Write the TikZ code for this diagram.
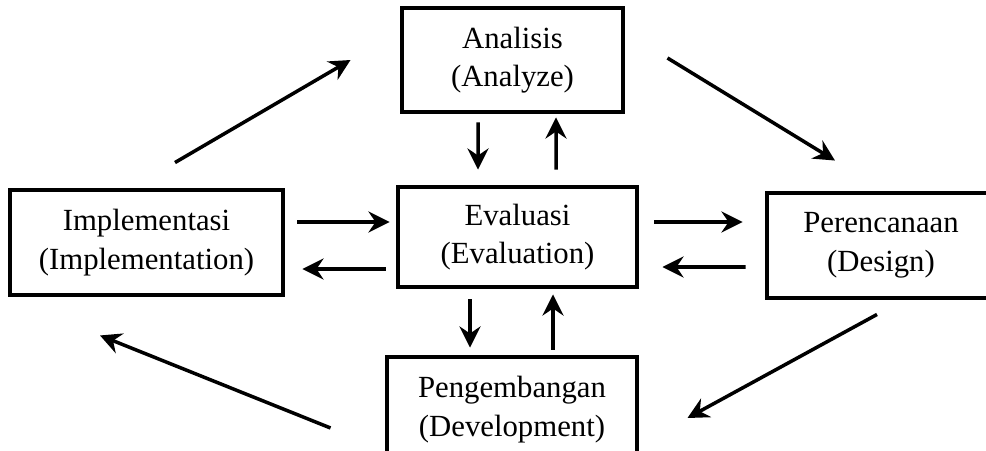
\documentclass[tikz,border=0pt]{standalone}
\usepackage{fontspec}
\setmainfont{Liberation Serif}
\usetikzlibrary{positioning, calc, arrows.meta}

\tikzset{
  stage/.style={draw, line width=2.8pt, align=center, minimum width=#1,
    minimum height=2.1cm, inner sep=2pt, font=\fontsize{17.5}{22}\selectfont},
  flow/.style={-{Stealth[length=12pt,width=12pt,inset=4pt]}, line width=2pt}
}

\begin{document}
\begin{tikzpicture}

    \useasboundingbox (0,0) rectangle (19.72,9);

    % --- Stages ---
    \node[stage=4.42cm, minimum height=2.08cm] (ana) at (10.25,7.8) {Analisis\\(Analyze)};
    \node[stage=4.78cm, minimum height=2.0cm] (eva) at (10.35,4.26) {Evaluasi\\(Evaluation)};
    \node[stage=5.46cm] (imp) at (2.93,4.15) {Implementasi\\(Implementation)};
    \node[stage=4.56cm] (per) at (17.62,4.09) {Perencanaan\\(Design)};
    \node[stage=5.0cm] (peng) at (10.24,0.81) {Pengembangan\\(Development)};

    % --- Outer cycle ---
    \draw[flow] ($(imp.north)+(0.57,0.5)$) -- ($(ana.west)+(-0.98,0)$);
    \draw[flow] ($(ana.east)+(0.84,0.04)$) -- ($(per.north)+(-0.92,0.6)$);
    \draw[flow] ($(per.south)+(-0.08,-0.28)$) -- ($(peng.east)+(0.96,-0.17)$);
    \draw[flow] ($(peng.west)+(-1.08,-0.37)$) -- ($(imp.south)+(-0.93,-0.76)$);

    % --- To and from Evaluasi ---
    \draw[flow] ($(ana.south)+(-0.69,-0.16)$) -- ($(eva.north)+(-0.79,0.3)$);
    \draw[flow] ($(eva.north)+(0.77,0.3)$) -- ($(ana.south)+(0.87,-0.06)$);

    \draw[flow] ($(imp.east)+(0.24,0.41)$) -- ($(eva.west)+(-0.12,0.3)$);
    \draw[flow] ($(eva.west)+(-0.2,-0.64)$) -- ($(imp.east)+(0.34,-0.53)$);

    \draw[flow] ($(eva.east)+(0.3,0.3)$) -- ($(per.west)+(-0.44,0.47)$);
    \draw[flow] ($(per.west)+(-0.38,-0.43)$) -- ($(eva.east)+(0.46,-0.6)$);

    \draw[flow] ($(eva.south)+(-0.95,-0.2)$) -- ($(peng.north)+(-0.84,0.14)$);
    \draw[flow] ($(peng.north)+(0.82,0.1)$) -- ($(eva.south)+(0.71,-0.1)$);

\end{tikzpicture}
\end{document}
